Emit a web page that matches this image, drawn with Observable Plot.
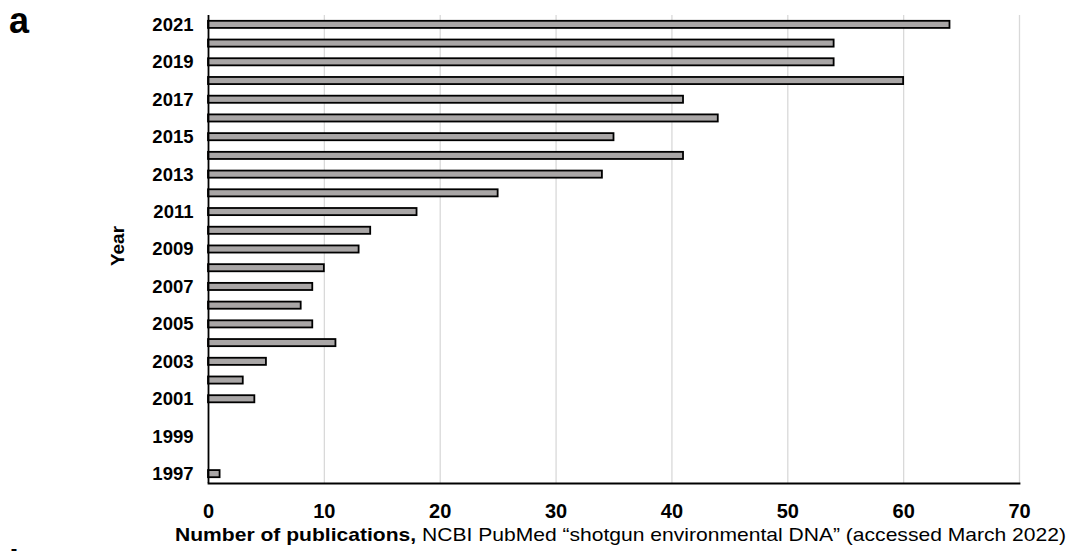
<!DOCTYPE html>
<html>
<head>
<meta charset="utf-8">
<script src="https://cdn.jsdelivr.net/npm/d3@7"></script>
<script src="https://cdn.jsdelivr.net/npm/@observablehq/plot@0.6"></script>
<style>
  html, body { margin: 0; padding: 0; background: #fff; overflow: hidden; }
  #wrap { position: relative; width: 1091px; height: 551px; overflow: hidden; font-family: "Liberation Sans", Arial, sans-serif; }
  #wrap svg { display: block; font-family: "Liberation Sans", Arial, sans-serif; }
</style>
</head>
<body>
<div id="wrap"></div>
<script>
const years = [2021, 2020, 2019, 2018, 2017, 2016, 2015, 2014, 2013, 2012, 2011, 2010, 2009, 2008, 2007, 2006, 2005, 2004, 2003, 2002, 2001, 2000, 1999, 1998, 1997];
const publications = [64, 54, 54, 60, 41, 44, 35, 41, 34, 25, 18, 14, 13, 10, 9, 8, 9, 11, 5, 3, 4, 0, 0, 0, 1];
const yearTicks = [2021, 2019, 2017, 2015, 2013, 2011, 2009, 2007, 2005, 2003, 2001, 1999, 1997];
const xTicks = [0, 10, 20, 30, 40, 50, 60, 70];
const gridTicks = [10, 20, 30, 40, 50, 60, 70];

const data = years.map((y, i) => ({year: y, count: publications[i]}));

const chart = Plot.plot({
  width: 1091,
  height: 551,
  marginLeft: 208,
  marginRight: 72,
  marginTop: 15,
  marginBottom: 68,
  style: {fontFamily: "'Liberation Sans', Arial, sans-serif", background: "#fff"},
  x: {domain: [0, 70]},
  y: {domain: years, type: "band", paddingInner: 0.62, paddingOuter: 0.31, round: false},
  marks: [
    Plot.ruleX(gridTicks, {stroke: "#d9d9d9", strokeWidth: 1.3}),
    Plot.barX(data, {y: "year", x: "count", fill: "#a9a6a6", stroke: "#000", strokeWidth: 1.8}),
    Plot.ruleX([0], {stroke: "#000", strokeWidth: 1.8}),
    Plot.frame({anchor: "bottom", stroke: "#000", strokeWidth: 1.8}),
    Plot.axisX({ticks: xTicks, tickSize: 0, tickPadding: 20, fontSize: 20, fontWeight: "bold", fill: "#000", label: null}),
    Plot.axisY({ticks: yearTicks, tickFormat: d => String(d), tickSize: 0, tickPadding: 15, fontSize: 18.5, fontWeight: "bold", fill: "#000", label: null})
  ]
});

document.getElementById("wrap").appendChild(chart);

const svg = d3.select(chart);
// y label
svg.append("text")
  .attr("transform", "translate(124,246) rotate(-90)")
  .attr("text-anchor", "middle")
  .attr("font-size", 19)
  .attr("font-weight", "bold")
  .attr("fill", "#000")
  .text("Year");
// x label with mixed weights
const xl = svg.append("text")
  .attr("x", 175)
  .attr("y", 541)
  .attr("text-anchor", "start")
  .attr("font-size", 19)
  .attr("textLength", 891)
  .attr("lengthAdjust", "spacingAndGlyphs")
  .attr("fill", "#000");
xl.append("tspan").attr("font-weight", "bold").text("Number of publications,");
xl.append("tspan").text(" NCBI PubMed \u201Cshotgun environmental DNA\u201D (accessed March 2022)");
// panel letters
svg.append("text").attr("x", 9).attr("y", 33).attr("text-anchor", "start").attr("font-size", 36).attr("font-weight", "bold").attr("fill", "#000").text("a");
svg.append("text").attr("x", 9).attr("y", 576).attr("text-anchor", "start").attr("font-size", 36).attr("font-weight", "bold").attr("fill", "#000").text("b");
</script>
</body>
</html>
